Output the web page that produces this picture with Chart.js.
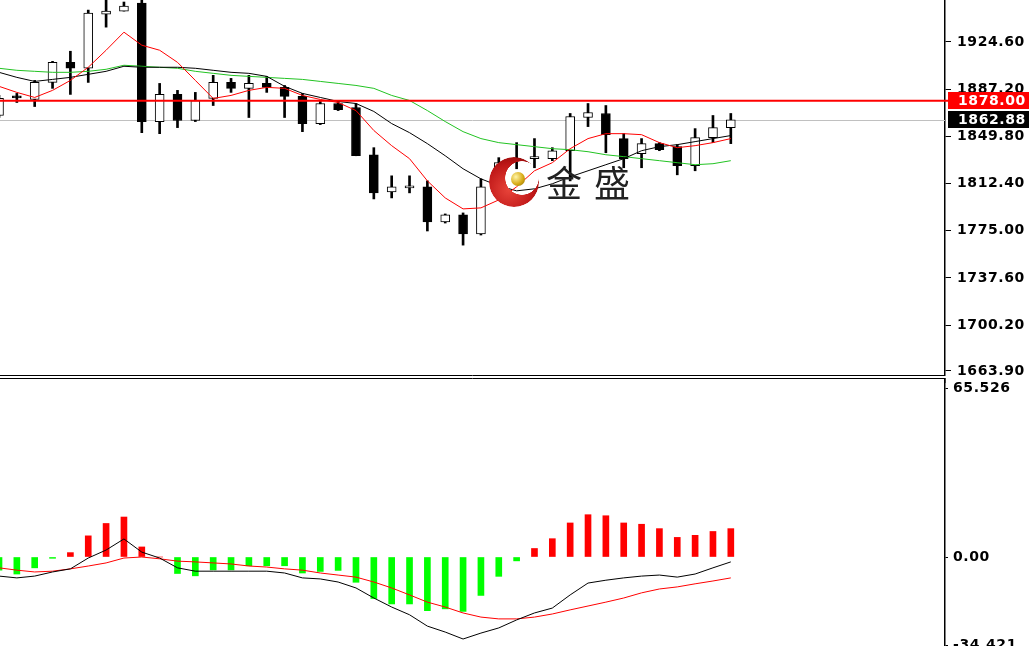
<!DOCTYPE html>
<html><head><meta charset="utf-8">
<script src="https://cdn.jsdelivr.net/npm/chart.js@4.4.0/dist/chart.umd.min.js"></script>
<style>
html,body{margin:0;padding:0;width:1029px;height:646px;overflow:hidden;background:#fff;}
#top{position:absolute;left:0;top:0;}
#bot{position:absolute;left:0;top:376px;}
#logo{position:absolute;left:489px;top:157px;width:50px;height:50px;border-radius:50%;
 background:radial-gradient(circle at 40% 65%,#e8443a 0%,#c01818 55%,#7a0000 100%);
 -webkit-mask-image:radial-gradient(circle 17px at 33px 21px,transparent 97%,#000 100%);
 mask-image:radial-gradient(circle 17px at 33px 21px,transparent 97%,#000 100%);}
#ball{position:absolute;left:511px;top:172px;width:14px;height:14px;border-radius:50%;
 background:radial-gradient(circle at 35% 35%,#fff4a8,#d8ac18 55%,#8a6a00 100%);}
#wm{position:absolute;left:546px;top:163px;font-family:"Noto Sans CJK SC";font-size:36px;line-height:36px;color:#222;letter-spacing:2px;white-space:pre;}
</style></head>
<body>
<canvas id="top" width="1029" height="376"></canvas>
<canvas id="bot" width="1029" height="290"></canvas>
<div id="logo"></div><div id="ball"></div>
<div id="wm">金 盛</div>
<script>
// ---- data ----
const openP  = [1866.3,1880.6,1879.0,1892.5,1908.4,1903.7,1946.6,1949.0,1955.4,1861.5,1883.0,1862.3,1879.8,1892.5,1887.8,1891.7,1888.6,1881.4,1859.9,1875.8,1872.6,1835.2,1805.8,1809.0,1809.8,1781.9,1787.5,1772.4,1814.5,1830.5,1832.1,1832.1,1838.4,1864.7,1867.9,1848.0,1836.0,1844.0,1841.6,1826.5,1848.8,1856.7];
const highP  = [1882.2,1883.8,1894.1,1909.2,1917.2,1949.8,1957.8,1956.2,1957.8,1891.7,1886.2,1884.6,1898.1,1895.7,1898.1,1897.3,1890.1,1883.8,1877.4,1878.2,1875.8,1840.8,1818.5,1818.5,1814.5,1788.3,1789.1,1816.1,1832.9,1844.8,1848.0,1840.8,1867.9,1875.8,1874.2,1851.9,1848.0,1844.8,1843.2,1855.9,1866.3,1867.9];
const lowP   = [1864.7,1876.6,1873.4,1887.8,1883.0,1892.5,1936.3,1949.0,1852.7,1851.9,1856.7,1861.5,1874.2,1884.6,1864.7,1884.6,1864.7,1853.5,1859.1,1870.2,1834.4,1800.2,1801.0,1805.0,1774.8,1781.1,1763.6,1771.6,1810.6,1824.1,1824.9,1830.5,1814.5,1857.5,1836.8,1824.9,1824.9,1838.4,1819.3,1822.5,1844.8,1844.0];
const closeP = [1879.8,1880.2,1892.5,1908.4,1903.7,1947.4,1949.0,1953.0,1861.5,1883.0,1862.3,1878.2,1892.5,1887.8,1891.7,1888.6,1881.4,1859.9,1875.8,1871.0,1834.4,1805.0,1809.8,1809.2,1781.9,1787.5,1772.4,1809.8,1828.9,1832.1,1832.3,1838.4,1865.5,1868.7,1851.1,1832.1,1844.0,1839.2,1826.5,1848.8,1856.7,1862.88];
const maFast = [1889.4,1884.6,1880.6,1886.2,1894.1,1904.5,1918.0,1932.3,1922.0,1918.0,1908.4,1894.1,1879.8,1882.2,1886.2,1888.6,1887.8,1882.2,1879.0,1876.6,1870.2,1854.4,1842.4,1832.1,1814.5,1801.0,1792.3,1793.1,1799.4,1809.8,1822.5,1828.9,1840.0,1848.0,1851.9,1851.9,1851.1,1844.8,1840.8,1842.4,1844.8,1848.0];
const maMid  = [1900.5,1896.5,1893.3,1894.9,1896.5,1898.9,1901.3,1905.3,1904.5,1904.5,1904.5,1903.7,1902.1,1900.5,1899.7,1897.3,1889.4,1883.8,1880.6,1877.4,1875.8,1869.5,1859.9,1852.7,1844.0,1834.4,1824.1,1816.1,1810.6,1806.6,1808.2,1812.2,1817.7,1822.5,1827.3,1832.1,1838.4,1841.6,1843.2,1845.6,1848.0,1850.4];
const maSlow = [1903.7,1902.1,1901.3,1900.5,1900.5,1901.3,1902.9,1906.1,1905.3,1904.5,1903.7,1901.3,1899.7,1898.1,1897.3,1896.5,1895.7,1894.9,1893.3,1891.7,1890.1,1887.8,1882.2,1878.2,1870.2,1861.5,1853.5,1848.0,1844.8,1843.2,1841.6,1840.0,1839.2,1837.6,1835.2,1833.7,1832.1,1830.5,1828.9,1827.3,1828.1,1830.5];
const macdHist = [-5.1,-6.6,-4.2,-0.5,1.7,8.2,13.0,15.5,3.9,0,-6.4,-7.3,-5.0,-5.0,-3.4,-3.4,-3.4,-6.2,-5.6,-5.2,-9.8,-16.1,-18.2,-18.2,-20.8,-20.1,-21.1,-14.9,-7.5,-1.5,3.3,7.1,13.2,16.4,16.0,13.2,12.7,11.0,7.6,8.4,9.9,11.0];
const macdDif  = [-7.4,-8.1,-7.4,-5.8,-4.6,-0.4,2.7,7.0,1.9,-0.4,-4.2,-5.5,-5.5,-5.5,-5.5,-5.5,-6.2,-8.1,-8.5,-9.7,-12.0,-15.9,-19.4,-22.4,-26.8,-29.1,-31.8,-29.5,-27.5,-24.4,-21.7,-19.8,-14.7,-10.1,-9.0,-8.1,-7.4,-7.0,-7.8,-6.6,-4.2,-1.9];
const macdDea  = [-4.2,-5.1,-5.8,-5.5,-4.6,-3.5,-2.3,-0.4,0,-0.7,-1.6,-1.9,-2.3,-2.7,-3.5,-3.9,-4.6,-5.1,-6.2,-7.0,-7.8,-9.7,-12.0,-14.7,-17.5,-19.4,-21.7,-23.3,-24.0,-24.0,-23.3,-22.1,-20.5,-19.0,-17.5,-15.9,-13.9,-12.4,-11.6,-10.4,-9.3,-8.1];
const priceTicks = [1663.9,1700.2,1737.6,1775.0,1812.4,1849.8,1887.2,1924.6];
const macdTicks  = [65.526,0,-34.421];
const levelPrice = 1878.00;
const lastPrice  = 1862.88;

const idx = openP.map((_, i) => i);
const XMIN = 0.056, XMAX = 53.0;
const FONT = {family:'DejaVu Sans', size:14, weight:'bold'};

const spacing = {id:'spacing', beforeDraw(c){ c.ctx.letterSpacing='0.6px'; }};
function fitAxis(s){ s.width = 84; s.paddingTop = 0; s.paddingBottom = 0; }

const topPlugin = {
  id:'topPlugin',
  beforeDatasetsDraw(c){
    const {ctx, chartArea:a, scales:{y}} = c;
    const yy = Math.round(y.getPixelForValue(lastPrice))+0.5;
    ctx.save(); ctx.strokeStyle='#c0c0c0'; ctx.lineWidth=1;
    ctx.beginPath(); ctx.moveTo(a.left,yy); ctx.lineTo(a.right,yy); ctx.stroke(); ctx.restore();
  },
  afterDatasetsDraw(c){
    const {ctx, chartArea:a, scales:{y}} = c;
    const yy = y.getPixelForValue(levelPrice);
    ctx.save(); ctx.strokeStyle='#ff0000'; ctx.lineWidth=2;
    ctx.beginPath(); ctx.moveTo(a.left,yy); ctx.lineTo(a.right+4,yy); ctx.stroke(); ctx.restore();
  },
  afterDraw(c){
    const {ctx, chartArea:a, scales:{y}} = c;
    ctx.save();
    ctx.letterSpacing='0.6px';
    ctx.font = 'bold 14px "DejaVu Sans"';
    ctx.textBaseline='middle'; ctx.textAlign='left';
    const boxes = [[levelPrice,'#ff0000'],[lastPrice,'#000000']];
    boxes.forEach(([v,col])=>{
      const yy = y.getPixelForValue(v);
      ctx.fillStyle=col; ctx.fillRect(a.right+3, Math.round(yy-8.5), c.width-(a.right+3), 17);
      ctx.fillStyle='#ffffff'; ctx.fillText(v.toFixed(2), a.right+13, yy+0.5);
    });
    ctx.strokeStyle='#000'; ctx.lineWidth=1;
    ctx.beginPath(); ctx.moveTo(0,a.bottom+0.5); ctx.lineTo(a.right,a.bottom+0.5); ctx.stroke();
    ctx.restore();
  }
};

new Chart(document.getElementById('top'), {
  type:'bar',
  data:{ datasets:[
    {type:'line', data:idx.map(i=>({x:i,y:maSlow[i]})), borderColor:'#22c322', borderWidth:1, pointRadius:0, order:2},
    {type:'line', data:idx.map(i=>({x:i,y:maMid[i]})), borderColor:'#000000', borderWidth:1, pointRadius:0, order:1},
    {type:'line', data:idx.map(i=>({x:i,y:maFast[i]})), borderColor:'#ff0000', borderWidth:1, pointRadius:0, order:0},
    {type:'bar', data:idx.map(i=>({x:i,y:[lowP[i],highP[i]]})), backgroundColor:'#000', barThickness:2, grouped:false, order:6},
    {type:'bar', data:idx.map(i=>({x:i,y:[openP[i],closeP[i]]})),
      backgroundColor:(ctx)=>{const i=ctx.dataIndex; return closeP[i]>=openP[i]?'#ffffff':'#000000';},
      borderColor:'#000', borderWidth:1, borderSkipped:false, minBarLength:2, barThickness:9, grouped:false, order:5}
  ]},
  options:{
    responsive:false, animation:false,
    layout:{padding:{top:0,bottom:1,left:0,right:0}},
    plugins:{legend:{display:false}, tooltip:{enabled:false}},
    scales:{
      x:{type:'linear', min:XMIN, max:XMAX, display:false, offset:false},
      y:{position:'right', min:1660.7, max:1957.8,
         afterFit:fitAxis,
         afterBuildTicks(s){ s.ticks = priceTicks.map(v=>({value:v})); },
         grid:{drawOnChartArea:false, drawTicks:true, tickLength:6, color:'#000'},
         border:{display:true, color:'#000', width:1.5},
         ticks:{padding:6, color:'#000', font:FONT, callback:(v)=>Number(v).toFixed(2)}
      }
    }
  },
  plugins:[spacing, topPlugin]
});

const botPlugin = {
  id:'botPlugin',
  afterDraw(c){
    const {ctx, chartArea:a} = c;
    ctx.save(); ctx.strokeStyle='#000'; ctx.lineWidth=1;
    ctx.beginPath(); ctx.moveTo(0,a.top-0.5); ctx.lineTo(a.right,a.top-0.5); ctx.stroke();
    ctx.beginPath(); ctx.moveTo(a.right,a.top-1); ctx.lineTo(a.right,a.top+4); ctx.stroke();
    ctx.restore();
  }
};

new Chart(document.getElementById('bot'), {
  type:'bar',
  data:{ datasets:[
    {type:'line', data:idx.map(i=>({x:i,y:macdDea[i]})), borderColor:'#ff0000', borderWidth:1, pointRadius:0, order:1},
    {type:'line', data:idx.map(i=>({x:i,y:macdDif[i]})), borderColor:'#000000', borderWidth:1, pointRadius:0, order:0},
    {type:'bar', data:idx.map(i=>({x:i,y:macdHist[i]})),
      backgroundColor:(ctx)=>macdHist[ctx.dataIndex]>=0?'#ff0000':'#00ff00',
      borderWidth:0, barThickness:6, grouped:false, order:3}
  ]},
  options:{
    responsive:false, animation:false,
    layout:{padding:{top:3,bottom:16,left:0,right:0}},
    plugins:{legend:{display:false}, tooltip:{enabled:false}},
    scales:{
      x:{type:'linear', min:XMIN, max:XMAX, display:false, offset:false},
      y:{position:'right', min:-36.06, max:69.02,
         afterFit:fitAxis,
         afterBuildTicks(s){ s.ticks = macdTicks.map(v=>({value:v})); },
         grid:{drawOnChartArea:false, drawTicks:true, tickLength:3, color:'#000'},
         border:{display:true, color:'#000', width:1.5},
         ticks:{padding:5, color:'#000', font:FONT, callback:(v)=>v===0?'0.00':Number(v).toFixed(3)}
      }
    }
  },
  plugins:[spacing, botPlugin]
});
</script>
</body></html>
